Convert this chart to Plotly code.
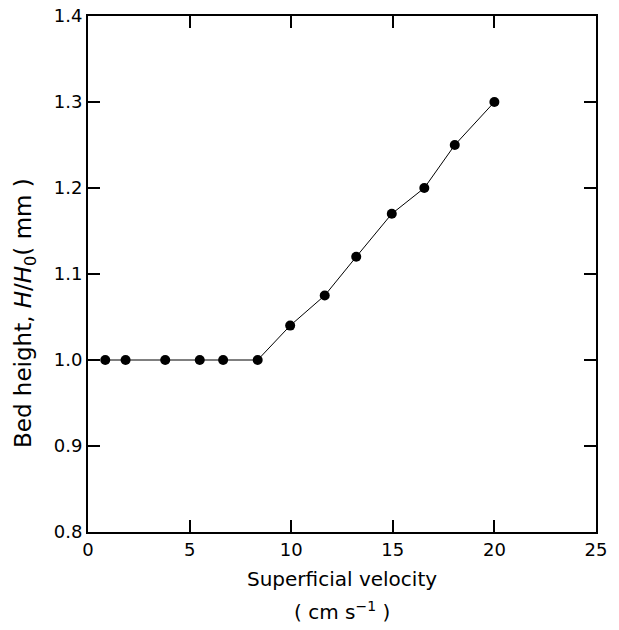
import plotly.graph_objects as go

velocity = [0.85, 1.85, 3.8, 5.5, 6.65, 8.35, 9.95, 11.65, 13.2, 14.95, 16.55, 18.05, 20.0]
bed_height = [1.0, 1.0, 1.0, 1.0, 1.0, 1.0, 1.04, 1.075, 1.12, 1.17, 1.2, 1.25, 1.3]
x_ticks = [0, 5, 10, 15, 20, 25]
y_ticks = [0.8, 0.9, 1.0, 1.1, 1.2, 1.3, 1.4]

FONT = "DejaVu Sans, Arial, sans-serif"

fig = go.Figure()
fig.add_trace(go.Scatter(
    x=velocity, y=bed_height, mode="lines+markers",
    line=dict(color="black", width=1),
    marker=dict(color="black", size=10),
    showlegend=False,
))

axis_common = dict(
    showgrid=False, zeroline=False, showline=True, linecolor="black", linewidth=2,
    mirror="allticks", ticks="inside", ticklen=12, tickwidth=2, tickcolor="black",
    tickfont=dict(family=FONT, size=18, color="black"), automargin=False,
    ticklabeloverflow="allow",
)
fig.update_xaxes(range=[0, 25], tickvals=x_ticks, ticktext=[str(v) for v in x_ticks], **axis_common)
fig.update_yaxes(range=[0.8, 1.4], tickvals=y_ticks, ticktext=[f"{v:.1f}" for v in y_ticks], **axis_common)

# page body has an 8px margin, so margins are shifted to compensate
fig.update_layout(
    width=619, height=630,
    margin=dict(l=80, r=31, t=8, b=106),
    plot_bgcolor="white", paper_bgcolor="white",
    font=dict(family=FONT, size=18, color="black"),
    annotations=[
        dict(text="Superficial velocity", xref="paper", yref="paper", x=0.5, y=0,
             xanchor="center", yanchor="middle",
             yshift=-47, showarrow=False, font=dict(size=20)),
        dict(text="( cm s<sup>\u22121</sup> )", xref="paper", yref="paper", x=0.5, y=0,
             xanchor="center", yanchor="middle",
             yshift=-79, showarrow=False, font=dict(size=20)),
        dict(text="Bed height, <i>H</i>/<i>H</i><sub>0</sub>( mm )", xref="paper", yref="paper",
             x=0, xshift=-63, y=(531 - 312) / 516, xanchor="center", yanchor="middle",
             textangle=-90, showarrow=False, font=dict(size=23)),
    ],
)

fig.write_html("out.html")
